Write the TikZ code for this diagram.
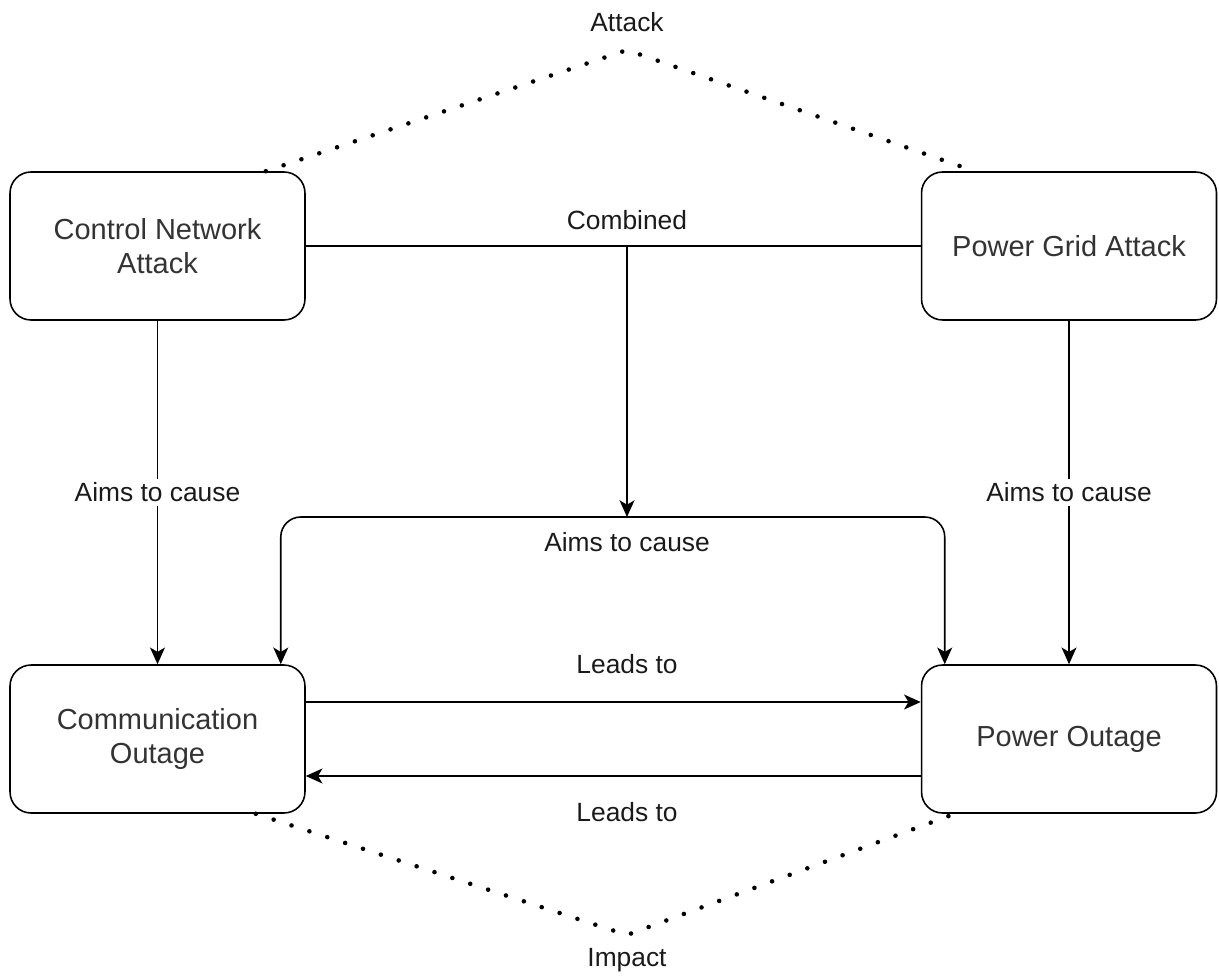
\documentclass[tikz,border=0pt]{standalone}
\usepackage{fontspec}
\setmainfont{Liberation Sans}
\usetikzlibrary{arrows.meta,calc}
\definecolor{boxtext}{HTML}{333333}
\definecolor{lbltext}{HTML}{1A1A1A}
\tikzset{
  box/.style={draw=black, line width=0.9pt, rounded corners=0.42cm, minimum width=5.9cm, minimum height=2.96cm, align=center, text=boxtext, font=\fontsize{16.5}{19.5}\selectfont},
  lbl/.style={text=lbltext, font=\fontsize{15}{18}\selectfont, inner sep=2pt},
  lblbg/.style={lbl, fill=white},
  conn/.style={draw=black, line width=0.9pt},
  arr/.style={conn, -{Stealth[length=9.5pt, width=8.5pt, inset=2.5pt]}},
  dotline/.style={draw=black, line width=2.6pt, line cap=round, dash pattern=on 0pt off 10.7pt}
}
\begin{document}
\begin{tikzpicture}[x=0.02cm, y=-0.02cm]
\useasboundingbox (0,0) rectangle (1219,979);
% boxes
\node[box] (cna) at (157.5,246) {Control Network\\Attack};
\node[box] (pga) at (1069,246) {Power Grid Attack};
\node[box] (co) at (157.5,739) {Communication\\Outage};
\node[box] (po) at (1069,739) {Power Outage};
% dotted attack / impact
\coordinate (topapex) at (627,50);
\coordinate (botapex) at (627,935);
\node[lbl] (attack) at (627,22) {Attack};
\node[lbl] (impact) at (627,960) {Impact};
\draw[dotline] ([xshift=-0.8cm]cna.north east) -- (topapex) -- ([xshift=1.08cm]pga.north west);
\draw[dotline] ([xshift=-1cm]co.south east) -- (botapex) -- ([xshift=0.68cm]po.south west);
% combined
\coordinate (join) at (627,246);
\coordinate (split) at (627,517);
\draw[conn] (cna.east) -- (pga.west);
\node[lbl] (combined) at (627,220) {Combined};
\draw[arr] (join) -- (split);
\draw[arr, rounded corners=0.4cm] (split) -| ([xshift=-0.5cm]co.north east);
\draw[arr, rounded corners=0.4cm] (split) -| ([xshift=0.48cm]po.north west);
\node[lbl] (aimsmid) at (627,542) {Aims to cause};
% side aims
\draw[arr] (cna.south) -- node[lblbg, pos=0.5] (aimsl) {Aims to cause} (co.north);
\draw[arr] (pga.south) -- node[lblbg, pos=0.5] (aimsr) {Aims to cause} (po.north);
% leads to
\draw[arr] ([yshift=0.74cm]co.east) -- ([yshift=0.74cm]po.west);
\draw[arr] ([yshift=-0.74cm]po.west) -- ([yshift=-0.74cm]co.east);
\node[lbl] (leads1) at (627,664) {Leads to};
\node[lbl] (leads2) at (627,812) {Leads to};
\end{tikzpicture}
\end{document}
